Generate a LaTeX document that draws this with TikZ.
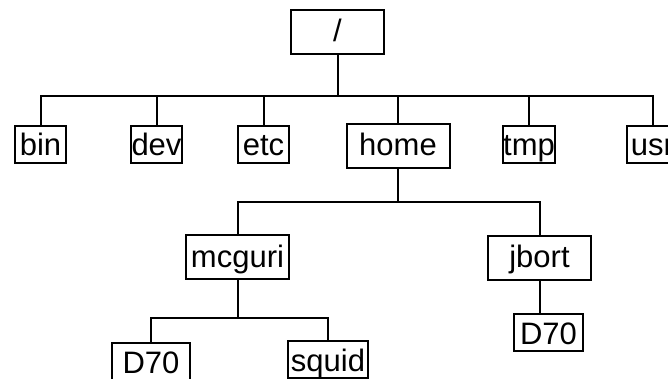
\documentclass[tikz,border=0pt]{standalone}
\usepackage{fontspec}
\setmainfont{Liberation Sans}

\begin{document}
\begin{tikzpicture}[x=1pt, y=-1pt, line width=2pt]
    \tikzstyle{dir}=[draw, rectangle, inner sep=0pt, font=\fontsize{31}{31}\selectfont]
    \tikzstyle{small dir}=[dir, minimum width=51pt, minimum height=37pt, text height=27pt, text depth=4pt]
    \tikzstyle{big dir}=[dir, minimum width=103pt, minimum height=44pt, text height=24pt, text depth=4pt]

    \useasboundingbox (0,0) rectangle (668,379);
    \clip (0,0) rectangle (668,379);

    % Draw the root directory
    \node[big dir, minimum width=93pt] (root) at (337.5,32) {/};

    % Draw the top level directories
    \foreach \name / \x in {bin/40.5, dev/156.5, etc/263.5, tmp/529, usr/652.5}
        \node[small dir] (\name) at (\x,144.5) {\name};
    \node[big dir] (home) at (398,146) {home};

    % Connect the root with every top level directory
    \draw (root.south) -- ++(0,41) coordinate (root-bar);
    \foreach \name in {bin,dev,etc,home,tmp,usr}
        \draw (\name.north) |- (root-bar);

    % Draw the user directories
    \node[big dir] (mcguri) at (237.5,257) {mcguri};
    \node[big dir] (jbort) at (539.5,257.5) {jbort};
    \draw (home.south) -- ++(0,33) coordinate (home-bar);
    \foreach \name in {mcguri,jbort}
        \draw (\name.north) |- (home-bar);

    % Draw what is in the user directories
    \node[small dir, minimum width=78pt] (mcguri-D70) at (151,361.5) {D70};
    \node[small dir, minimum width=80pt] (squid) at (328,359.5) {squid};
    \node[small dir, minimum width=69pt] (jbort-D70) at (548.5,332.5) {D70};
    \draw (mcguri.south) -- ++(0,38) coordinate (mcguri-bar);
    \foreach \name in {mcguri-D70,squid}
        \draw (\name.north) |- (mcguri-bar);
    \draw (jbort.south) -- (jbort.south |- jbort-D70.north);
\end{tikzpicture}
\end{document}
